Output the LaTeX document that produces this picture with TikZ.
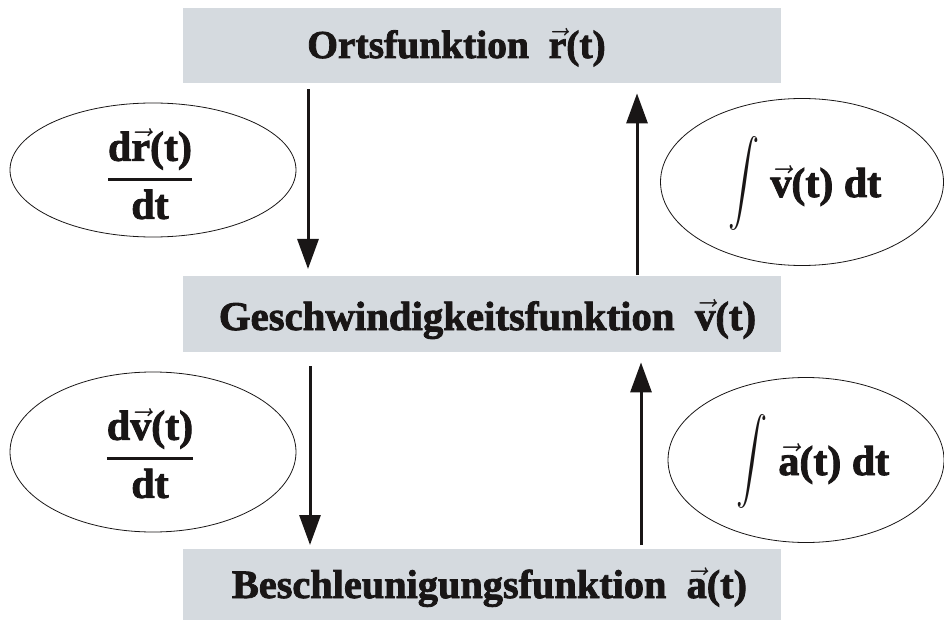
\documentclass[tikz,border=0pt]{standalone}
\usepackage{fix-cm}
\usepackage{amsmath}
\usepackage{fontspec}
\setmainfont{Liberation Serif}[BoldFeatures={FakeBold=2}]
\usetikzlibrary{arrows.meta,shapes.geometric}
\definecolor{boxgray}{RGB}{213,218,223}
\definecolor{ink}{RGB}{25,22,22}
\newcommand\vbold[1]{$\vec{\hbox{\bfseries #1}}$}
\newcommand\bigfrac[2]{$\genfrac{}{}{2.8pt}{0}{\hbox{\bfseries #1}}{\hbox{\bfseries #2}}$}
\newcommand\bigint{\raisebox{-0.1em}{\scalebox{1.25}[1.7]{$\displaystyle\int$}}}
\begin{document}
\begin{tikzpicture}[x=1pt,y=-1pt,
  box/.style={fill=boxgray, minimum width=598pt, minimum height=75pt, inner sep=0pt, anchor=north west},
  ell/.style={draw=ink, line width=0.8pt, ellipse, inner sep=0pt},
  lbl/.style={font=\fontsize{39.5}{46}\selectfont\bfseries, text=ink, inner sep=0pt, anchor=base},
  elbl/.style={font=\fontsize{42}{48}\selectfont\bfseries, text=ink, inner sep=0pt, anchor=base},
  arr/.style={line width=3pt, draw=ink, -{Triangle[length=30pt,width=21pt]}}]
\useasboundingbox (0,0) rectangle (944,620);
% boxes
\node[box] (top) at (183,8) {};
\node[box, minimum height=76pt] (mid) at (183,276) {};
\node[box, minimum height=71pt] (bot) at (183,549) {};
% box labels
\node[lbl] (ttop) at (456.5,58) {Ortsfunktion\ \ \vbold{r}(t)};
\node[lbl, font=\fontsize{40.8}{46}\selectfont\bfseries] (tmid) at (487.5,330) {Geschwindigkeitsfunktion\ \ \vbold{v}(t)};
\node[lbl, font=\fontsize{40.3}{46}\selectfont\bfseries] (tbot) at (489.5,598) {Beschleunigungsfunktion\ \ \vbold{a}(t)};
% ellipses
\node[ell, minimum width=286pt, minimum height=134pt] (e1) at (153,170) {};
\node[ell, minimum width=283pt, minimum height=167pt] (e2) at (802,182) {};
\node[ell, minimum width=286pt, minimum height=160pt] (e3) at (153,452) {};
\node[ell, minimum width=276pt, minimum height=165pt] (e4) at (806,460) {};
% ellipse labels
\node[elbl] (f1) at (150,190) {\bigfrac{d\vbold{r}(t)}{dt}};
\node[elbl] (f2) at (805,197) {\bigint\ \vbold{v}(t) dt};
\node[elbl] (f3) at (150,469) {\bigfrac{d\vbold{v}(t)}{dt}};
\node[elbl] (f4) at (813,475) {\bigint\ \vbold{a}(t) dt};
% arrows
\draw[arr] ([shift={(125,6)}]top.south west) -- ([shift={(125,-7)}]mid.north west);
\draw[arr] ([shift={(454,-1)}]mid.north west) -- ([shift={(454,10)}]top.south west);
\draw[arr] ([shift={(127,14)}]mid.south west) -- ([shift={(127,-4)}]bot.north west);
\draw[arr] ([shift={(458,-4)}]bot.north west) -- ([shift={(458,10)}]mid.south west);
\end{tikzpicture}
\end{document}
